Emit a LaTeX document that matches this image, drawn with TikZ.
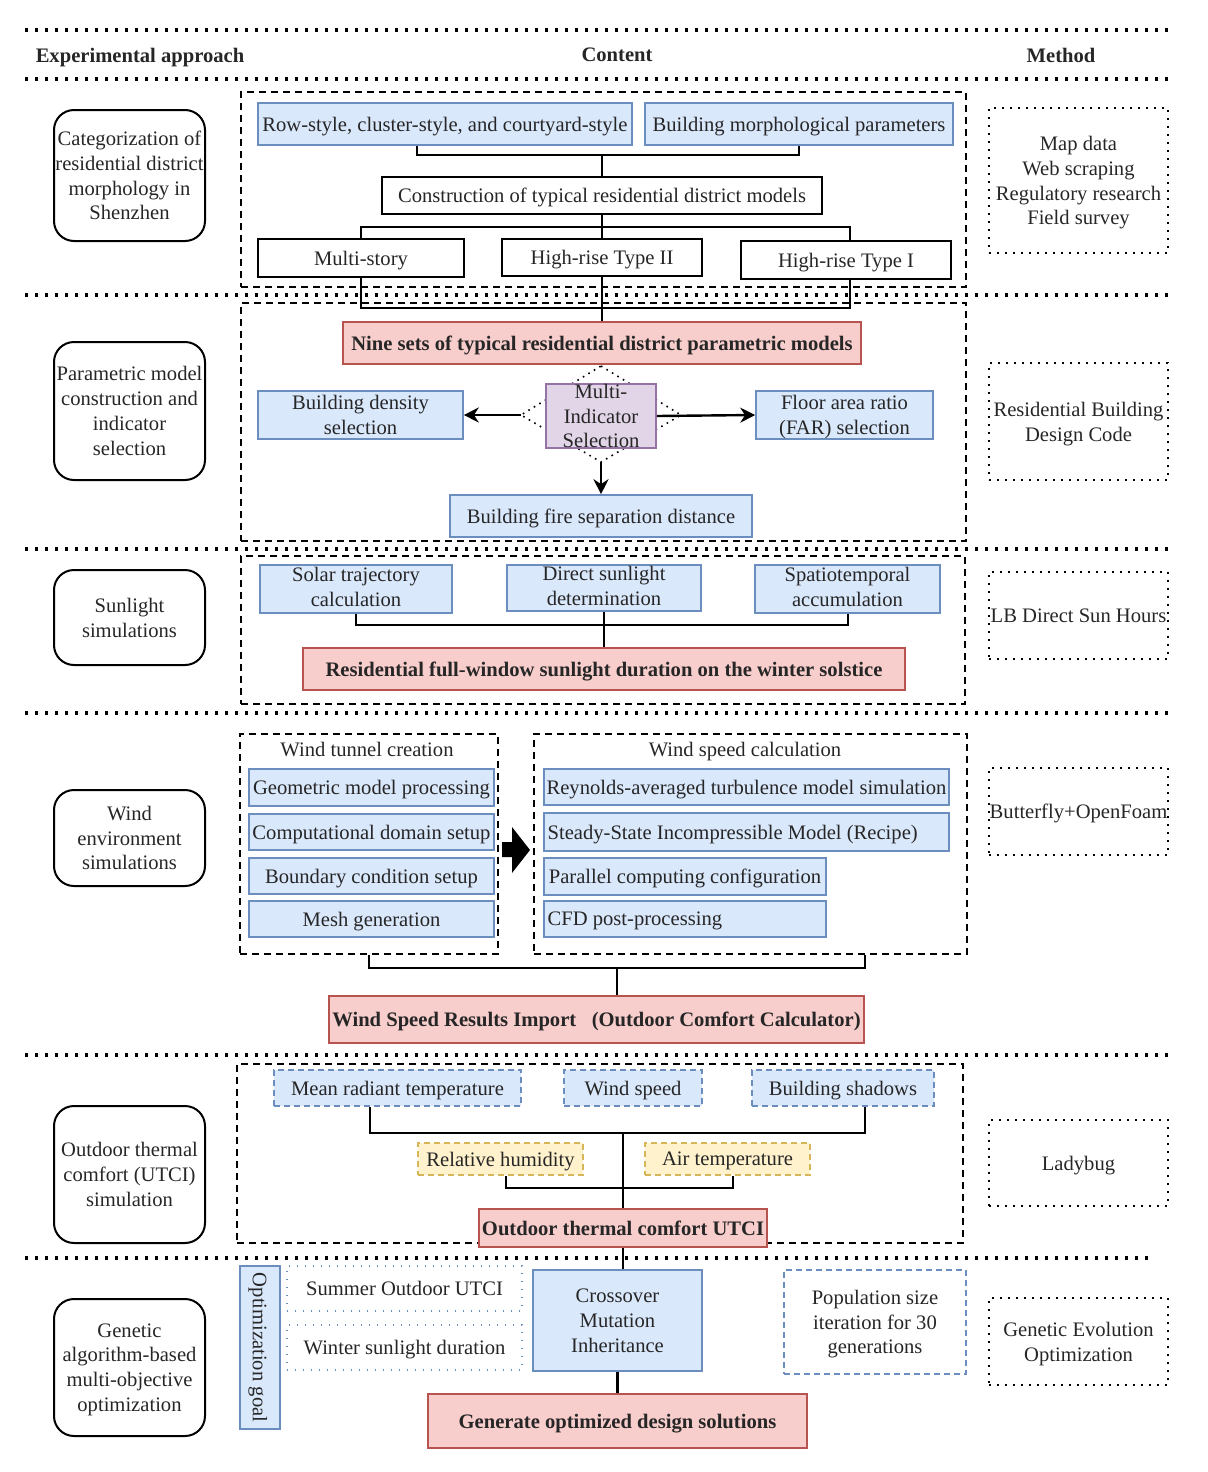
\documentclass[tikz,border=0pt]{standalone}
\usepackage{fontspec}
\setmainfont{Liberation Serif}
\usetikzlibrary{arrows.meta}
\definecolor{bfill}{HTML}{DAE8FC}
\definecolor{bdraw}{HTML}{6C8EBF}
\definecolor{rfill}{HTML}{F8CECC}
\definecolor{rdraw}{HTML}{B85450}
\definecolor{pfill}{HTML}{E1D5E7}
\definecolor{pdraw}{HTML}{9673A6}
\definecolor{yfill}{HTML}{FFF2CC}
\definecolor{ydraw}{HTML}{D6B656}
\newcommand{\mybox}[7]{\node[#6, minimum width={(#4-#2)*0.5pt}, minimum height={(#5-#3)*0.5pt}] (#1) at ({(#2+#4)/2},{(#3+#5)/2}) {#7};}
\tikzset{
 base/.style={font=\fontsize{10.3}{12.4}\selectfont, inner sep=0pt, align=center, text=black!85, text depth=0pt},
 bold/.style={font=\fontsize{10.3}{12.4}\selectfont\bfseries},
 bluebox/.style={base, draw=bdraw, fill=bfill, line width=0.8pt},
 redbox/.style={base, bold, draw=rdraw, fill=rfill, line width=0.8pt},
 purplebox/.style={base, draw=pdraw, fill=pfill, line width=0.8pt},
 whitebox/.style={base, draw=black, fill=white, line width=0.9pt},
 leftbox/.style={base, draw=black, line width=1pt, rounded corners=10pt},
 methodbox/.style={base, draw=black, line width=0.8pt, dash pattern=on 0.8pt off 3.2pt},
 sectbox/.style={draw=black, inner sep=0pt, line width=1pt, dash pattern=on 3.5pt off 2.5pt},
 sep/.style={line width=1.7pt, dash pattern=on 1.7pt off 3.3pt},
 conn/.style={line width=1.2pt},
 arr/.style={line width=1.2pt, -{Stealth[length=7.5pt,width=7.5pt]}},
 bluedash/.style={bluebox, dash pattern=on 3pt off 2pt},
 yellowdash/.style={base, draw=ydraw, fill=yfill, line width=0.8pt, dash pattern=on 3pt off 2pt},
 dotbox/.style={base, draw=bdraw, line width=0.7pt, dash pattern=on 0.7pt off 3.3pt},
 popbox/.style={base, draw=bdraw, line width=0.8pt, dash pattern=on 3pt off 2pt},
 hdr/.style={base, bold},
 higher/.style={text depth=2.5pt}
}
\begin{document}
\begin{tikzpicture}[x=0.5pt,y=-0.5pt]
\useasboundingbox (0,0) rectangle (1208,1472);
% separators
\foreach \yy in {30,79,295,549,713,1055} \draw[sep] (25,\yy) -- (1168,\yy);
\draw[sep] (25,1258) -- (1150,1258);
% headers
\node[hdr] (h1) at (140,55) {Experimental approach};
\node[hdr] (h2) at (617,55) {Content};
\node[hdr] (h3) at (1061,55) {Method};
% left boxes
\mybox{l1}{54}{110}{205}{241}{leftbox}{Categorization of\\residential district\\morphology in\\Shenzhen}
\mybox{l2}{54}{342}{205}{480}{leftbox}{Parametric model\\construction and\\indicator\\selection}
\mybox{l3}{54}{570}{205}{665}{leftbox}{Sunlight\\simulations}
\mybox{l4}{54}{790}{205}{886}{leftbox}{Wind\\environment\\simulations}
\mybox{l5}{54}{1106}{205}{1243}{leftbox}{Outdoor thermal\\comfort (UTCI)\\simulation}
\mybox{l6}{54}{1299}{205}{1436}{leftbox}{Genetic\\algorithm-based\\multi-objective\\optimization}
% method boxes
\mybox{m1}{989}{108}{1168}{253}{methodbox}{Map data\\Web scraping\\Regulatory research\\Field survey}
\mybox{m2}{989}{363}{1168}{480}{methodbox}{Residential Building\\Design Code}
\mybox{m3}{989}{572}{1168}{659}{methodbox}{LB Direct Sun Hours}
\mybox{m4}{989}{768}{1168}{855}{methodbox}{Butterfly+OpenFoam}
\mybox{m5}{989}{1120}{1168}{1206}{methodbox}{Ladybug}
\mybox{m6}{989}{1298}{1168}{1385}{methodbox}{Genetic Evolution\\Optimization}
% section boxes
\mybox{s1}{241}{92}{966}{287}{sectbox}{}
\mybox{s2}{241}{303}{966}{541}{sectbox}{}
\mybox{s3}{241}{556}{965}{704}{sectbox}{}
\mybox{s5}{237}{1064}{963}{1243}{sectbox}{}
% ---------- section 1
\coordinate (a1) at (417,155);
\coordinate (a2) at (602,155);
\coordinate (a3) at (799,155);
\coordinate (b1) at (361,227);
\coordinate (b2) at (602,227);
\coordinate (b3) at (850,227);
\coordinate (c1) at (361,308);
\coordinate (c3) at (850,308);
\mybox{row}{258}{103}{632}{145}{bluebox}{Row-style, cluster-style, and courtyard-style}
\mybox{bmp}{645}{103}{953}{145}{bluebox}{Building morphological parameters}
\mybox{cons}{382}{177}{822}{214}{whitebox}{Construction of typical residential district models}
\mybox{ms}{258}{239}{464}{277}{whitebox}{Multi-story}
\mybox{hrb}{502}{239}{702}{276}{whitebox}{High-rise Type II}
\mybox{hra}{741}{241}{951}{279}{whitebox}{High-rise Type I}
\draw[conn] (a1 |- row.south) -- (a1) -- (a3) -- (a3 |- bmp.south);
\draw[conn] (a2) -- (cons.north);
\draw[conn] (cons.south) -- (b2);
\draw[conn] (b1 |- ms.north) -- (b1) -- (b3) -- (b3 |- hra.north);
\draw[conn] (hrb.north) -- (hrb.north |- b2);
% ---------- section 2
\mybox{nine}{343}{322}{861}{364}{redbox}{Nine sets of typical residential district parametric models}
\draw[conn] (c1 |- ms.south) -- (c1) -- (c3) -- (c3 |- hra.south);
\draw[conn] (hrb.south) -- (hrb.south |- nine.north);
\coordinate (dT) at (601,366);
\coordinate (dR) at (681,415);
\coordinate (dB) at (601,462);
\coordinate (dL) at (521,415);
\draw[line width=0.8pt, dash pattern=on 0.8pt off 2.4pt] (dT) -- (dR) -- (dB) -- (dL) -- cycle;
\mybox{mis}{546}{385}{656}{447}{purplebox}{Multi-\\Indicator\\Selection}
\mybox{bd}{258}{391}{463}{439}{bluebox}{Building density\\selection}
\mybox{far}{756}{391}{933}{439}{bluebox}{Floor area ratio\\(FAR) selection}
\mybox{fire}{450}{495}{752}{537}{bluebox}{Building fire separation distance}
\draw[arr] (dL) -- (bd.east);
\draw[arr] (mis.east) -- (far.west);
\draw[arr] (dB) -- (fire.north);
% ---------- section 3
\mybox{sol}{260}{565}{452}{613}{bluebox, higher}{Solar trajectory\\calculation}
\mybox{dsd}{507}{565}{701}{611}{bluebox, higher}{Direct sunlight\\determination}
\mybox{spa}{755}{565}{940}{613}{bluebox, higher}{Spatiotemporal\\accumulation}
\mybox{rfw}{303}{648}{905}{690}{redbox}{Residential full-window sunlight duration on the winter solstice}
\coordinate (e1) at (356,625);
\coordinate (e3) at (848,625);
\draw[conn] (e1 |- sol.south) -- (e1) -- (e3) -- (e3 |- spa.south);
\draw[conn] (dsd.south) -- (rfw.north);
% ---------- section 4
\mybox{wtc}{240}{734}{498}{954}{sectbox}{}
\node[base] (wtct) at (367,749) {Wind tunnel creation};
\mybox{g1}{249}{769}{494}{806}{bluebox}{Geometric model processing}
\mybox{g2}{249}{814}{494}{850}{bluebox}{Computational domain setup}
\mybox{g3}{249}{858}{494}{894}{bluebox}{Boundary condition setup}
\mybox{g4}{249}{901}{494}{937}{bluebox}{Mesh generation}
\mybox{wsc}{534}{734}{967}{954}{sectbox}{}
\node[base] (wsct) at (745,749) {Wind speed calculation};
\mybox{k1}{544}{769}{949}{805}{bluebox}{Reynolds-averaged turbulence model simulation}
\mybox{k2}{544}{813}{949}{851}{bluebox}{}
\node[base, anchor=west] (k2t) at ([xshift=2pt]k2.west) {Steady-State Incompressible Model (Recipe)};
\mybox{k3}{544}{858}{826}{895}{bluebox}{Parallel computing configuration}
\mybox{k4}{544}{901}{826}{937}{bluebox}{}
\node[base, anchor=west] (k4t) at ([xshift=2pt]k4.west) {CFD post-processing};
\fill[black] (502,842) -- (512,842) -- (512,827) -- (530,850) -- (512,873) -- (512,857) -- (502,857) -- cycle;
\mybox{wsr}{329}{996}{864}{1043}{redbox}{Wind Speed Results Import\ \ \ (Outdoor Comfort Calculator)}
\coordinate (f1) at (369,968);
\coordinate (f2) at (617,968);
\coordinate (f3) at (865,968);
\draw[conn] (wtc.south) -- (f1) -- (f3) -- (f3 |- wsc.south);
\draw[conn] (f2) -- (f2 |- wsr.north);
% ---------- section 5
\mybox{mrt}{274}{1070}{521}{1106}{bluedash}{Mean radiant temperature}
\mybox{wsp}{564}{1070}{702}{1106}{bluedash}{Wind speed}
\mybox{bsh}{752}{1070}{934}{1106}{bluedash}{Building shadows}
\mybox{rh}{418}{1143}{583}{1175}{yellowdash}{Relative humidity}
\mybox{airt}{645}{1143}{810}{1175}{yellowdash}{Air temperature}
\mybox{utci}{479}{1209}{767}{1247}{redbox}{Outdoor thermal comfort UTCI}
\coordinate (n1) at (370,1133);
\coordinate (n2) at (623,1133);
\coordinate (n3) at (865,1133);
\draw[conn] (n1 |- mrt.south) -- (n1) -- (n3) -- (n3 |- bsh.south);
\draw[conn] (n2) -- (utci.north);
\coordinate (q1) at (506,1188);
\coordinate (q3) at (733,1188);
\draw[conn] (q1 |- rh.south) -- (q1) -- (q3) -- (q3 |- airt.south);
% ---------- section 6
\node[bluebox, rotate=-90, minimum width=81.5pt, minimum height=20pt] (og) at (260,1347.5) {Optimization goal};
\mybox{sou}{287}{1266}{522}{1311}{dotbox}{Summer Outdoor UTCI}
\mybox{wsd}{287}{1325}{522}{1370}{dotbox}{Winter sunlight duration}
\mybox{cmi}{533}{1270}{702}{1371}{bluebox}{Crossover\\Mutation\\Inheritance}
\mybox{gen}{428}{1394}{807}{1448}{redbox}{Generate optimized design solutions}
\mybox{pop}{784}{1270}{966}{1374}{popbox}{Population size\\iteration for 30\\generations}
\draw[conn] (utci.south) -- (utci.south |- cmi.north);
\draw[conn] (cmi.south) -- (gen.north);
\end{tikzpicture}
\end{document}
